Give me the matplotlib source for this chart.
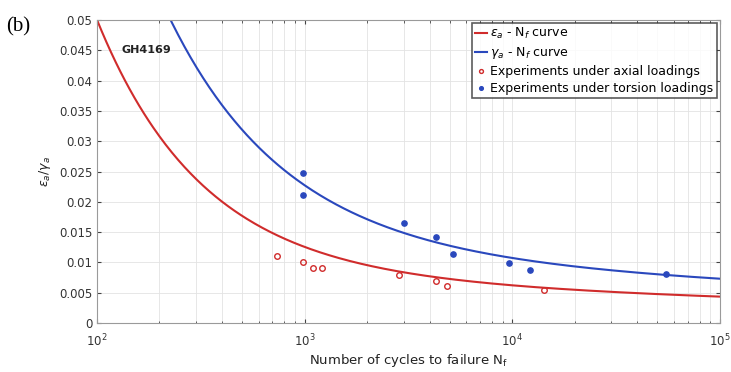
import numpy as np
import matplotlib
matplotlib.use('Agg')
import matplotlib.pyplot as plt

plt.rcParams['font.family'] = ['DejaVu Sans']
plt.rcParams['mathtext.fontset'] = 'dejavusans'

# fitted strain-life parameters: elastic term + plastic term, amp = a*N^b + c*N^d
axial_fit = dict(a=0.0151, b=-0.11, c=2.27, d=-0.872)
torsion_fit = dict(a=0.0221, b=-0.10, c=2.55, d=-0.78)

# experiments under axial loadings
axial_N = [733, 977, 1099, 1216, 2852, 4285, 4842, 14290]
axial_eps = [0.0111, 0.0100, 0.0090, 0.0090, 0.0080, 0.0070, 0.0061, 0.00545]

# experiments under torsion loadings
torsion_N = [977, 977, 3020, 4318, 5164, 9660, 12160, 54900]
torsion_gam = [0.0247, 0.0211, 0.01655, 0.01414, 0.01139, 0.00985, 0.00875, 0.0081]

red = '#d02c2c'
blue = '#2a48bd'


def life_curve(N, a, b, c, d):
    return a * N ** b + c * N ** d


fig = plt.figure(figsize=(7.31, 3.72), dpi=100)
ax = fig.add_axes([0.1327, 0.1317, 0.852, 0.8145])

N = np.logspace(2, 5, 400)
ax.plot(N, life_curve(N, **axial_fit), color=red, lw=1.5,
        label=r'$\epsilon_a$ - N$_f$ curve')
ax.plot(N, life_curve(N, **torsion_fit), color=blue, lw=1.5,
        label=r'$\gamma_a$ - N$_f$ curve')
ax.plot(axial_N, axial_eps, 'o', mfc='none', mec=red, ms=4.0, mew=1.0,
        label='Experiments under axial loadings')
ax.plot(torsion_N, torsion_gam, 'o', color=blue, ms=3.8,
        label='Experiments under torsion loadings')

ax.set_xscale('log')
ax.set_xlim(1e2, 1e5)
ax.set_ylim(0, 0.05)
ax.set_yticks(np.arange(0, 0.0501, 0.005))
ax.set_yticklabels(['0', '0.005', '0.01', '0.015', '0.02', '0.025',
                    '0.03', '0.035', '0.04', '0.045', '0.05'])
ax.grid(True, which='both', color='#e3e3e3', lw=0.6)
ax.tick_params(which='both', direction='in', labelsize=8.5, colors='#444444',
               top=True, right=True)
ax.tick_params(axis='x', which='major', pad=7)
ax.tick_params(which='major', length=3)
ax.tick_params(which='minor', length=1.8)
for lbl in ax.get_xticklabels() + ax.get_yticklabels():
    lbl.set_color('#333333')
for s in ax.spines.values():
    s.set_color('#9a9a9a')

ax.set_xlabel(r'Number of cycles to failure N$_\mathrm{f}$', fontsize=9.5,
              color='#222222', labelpad=2)
ax.set_ylabel(r'$\epsilon_a$/$\gamma_a$', fontsize=9, color='#222222',
              labelpad=4)
ax.text(0.04, 0.89, 'GH4169', transform=ax.transAxes, fontsize=8,
        fontweight='bold', color='#222222')
fig.text(0.008, 0.915, '(b)', family='Liberation Serif', fontsize=15)

leg = ax.legend(loc='upper right', fontsize=9.0, frameon=True, fancybox=False,
                edgecolor='#333333', handlelength=1.0, handletextpad=0.25,
                borderaxespad=0.25, labelspacing=0.32, markerscale=0.7,
                borderpad=0.25)
leg.get_frame().set_linewidth(1.2)

fig.savefig('out.png', dpi=100)
